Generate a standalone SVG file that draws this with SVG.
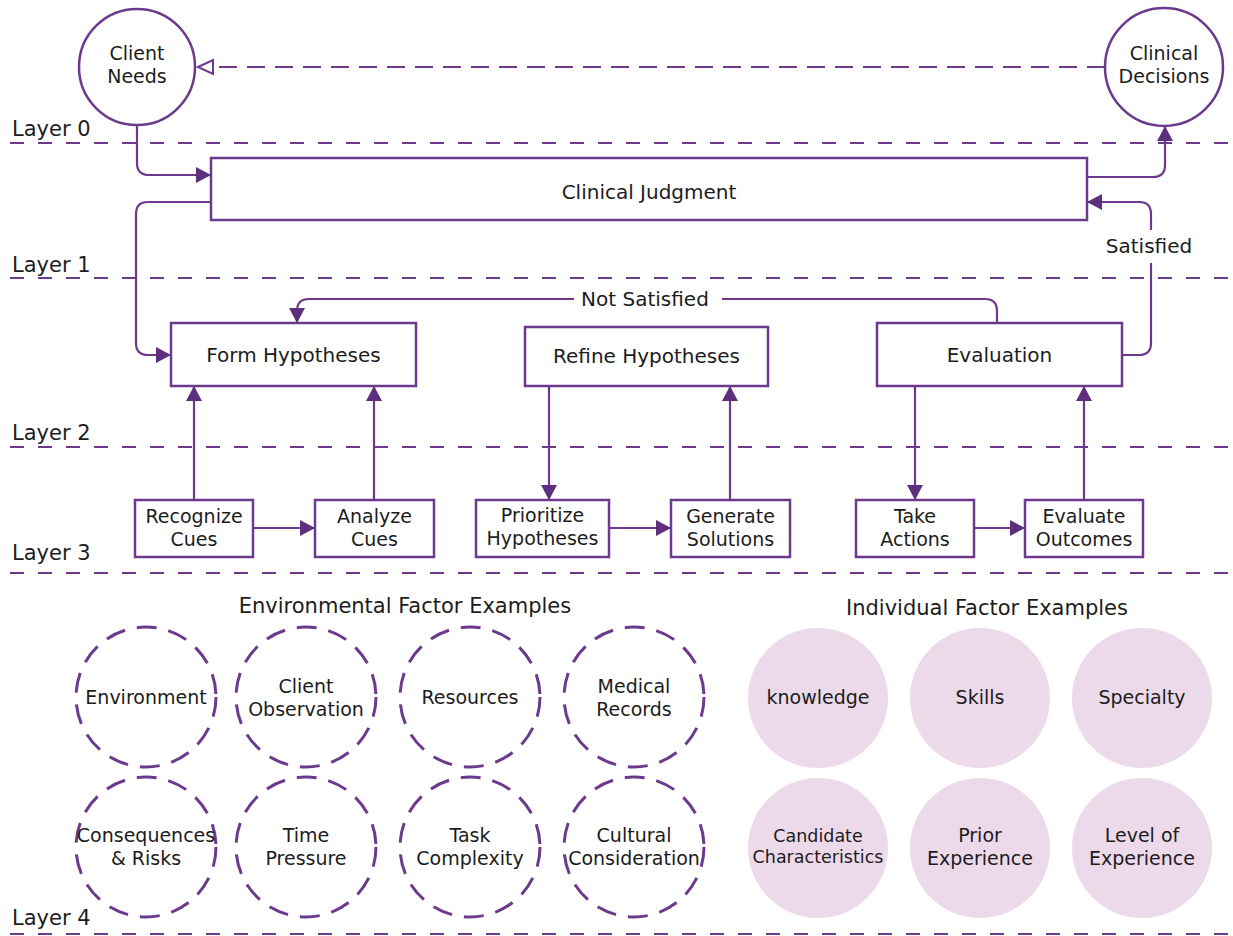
<svg xmlns="http://www.w3.org/2000/svg" width="1233" height="936" viewBox="0 0 1233 936">
<style>
text{font-family:"DejaVu Sans","Open Sans",sans-serif;fill:#1c1c1c}
.t{text-anchor:middle;font-size:20px}
.t2{text-anchor:middle;font-size:19px}
.n{text-anchor:middle;font-size:19px}
.e{text-anchor:middle;font-size:19px}
.i{text-anchor:middle;font-size:19px}
.cc{text-anchor:middle;font-size:17.5px}
.lay{font-size:21px}
.hd{text-anchor:middle;font-size:21px}
.box{fill:#fff;stroke:#6b3a8c;stroke-width:2.5}
.ring{fill:#fff;stroke:#6b3a8c;stroke-width:2.5}
.env{fill:none;stroke:#6b3a8c;stroke-width:3;stroke-dasharray:20 12}
.ind{fill:#ecdaeb}
.ln{fill:none;stroke:#6b3a8c;stroke-width:2.2;stroke-dasharray:14 14}
.c{fill:none;stroke:#6b3a8c;stroke-width:2.2}
</style>
<defs>
<marker id="arr" viewBox="0 0 15 16" refX="15" refY="8" markerWidth="15" markerHeight="16" markerUnits="userSpaceOnUse" orient="auto">
<path d="M0,0 L15,8 L0,16 z" fill="#5e2f7e"/>
</marker>
</defs>
<g id="layers">
<line class="ln" x1="10" y1="143" x2="1233" y2="143"/>
<line class="ln" x1="10" y1="278" x2="1233" y2="278"/>
<line class="ln" x1="10" y1="447" x2="1233" y2="447"/>
<line class="ln" x1="10" y1="573" x2="1233" y2="573"/>
<line class="ln" x1="10" y1="934" x2="1233" y2="934"/>
<text class="lay" x="12" y="136">Layer 0</text>
<text class="lay" x="12" y="272">Layer 1</text>
<text class="lay" x="12" y="440">Layer 2</text>
<text class="lay" x="12" y="560">Layer 3</text>
<text class="lay" x="12" y="925">Layer 4</text>
</g>
<g id="connectors">
<path class="c" d="M137,125 V163 Q137,175 149,175 H211" marker-end="url(#arr)"/>
<path class="c" d="M211,202 H148 Q136,202 136,214 V343 Q136,355 148,355 H171" marker-end="url(#arr)"/>
<path class="c" d="M1087,177 H1153 Q1165,177 1165,165 V126" marker-end="url(#arr)"/>
<path class="c" d="M1122,355 H1139 Q1151,355 1151,343 V263"/>
<path class="c" d="M1151,230 V214 Q1151,202 1139,202 H1087" marker-end="url(#arr)"/>
<path class="c" d="M997,323 V311 Q997,299 985,299 H722"/>
<path class="c" d="M574,299 H309 Q297,299 297,311 V323" marker-end="url(#arr)"/>
<path class="c" d="M194,500 V386" marker-end="url(#arr)"/>
<path class="c" d="M374,500 V386" marker-end="url(#arr)"/>
<path class="c" d="M253,528 H315" marker-end="url(#arr)"/>
<path class="c" d="M549,386 V500" marker-end="url(#arr)"/>
<path class="c" d="M609,528 H671" marker-end="url(#arr)"/>
<path class="c" d="M730,500 V386" marker-end="url(#arr)"/>
<path class="c" d="M915,386 V500" marker-end="url(#arr)"/>
<path class="c" d="M974,528 H1025" marker-end="url(#arr)"/>
<path class="c" d="M1084,500 V386" marker-end="url(#arr)"/>
<path d="M1105,67 H213" fill="none" stroke="#6b3a8c" stroke-width="2.2" stroke-dasharray="18 10"/>
<path d="M198,67 L213,60 L213,74 z" fill="#fff" stroke="#6b3a8c" stroke-width="2"/>
<text class="t" x="645" y="306">Not Satisfied</text>
<text class="t" x="1149" y="253">Satisfied</text>
</g>
<g id="client-needs">
<circle class="ring" cx="137" cy="67" r="58"/>
<text class="n" x="137" y="60">Client</text>
<text class="n" x="137" y="82.5">Needs</text>
</g>
<g id="clinical-decisions">
<circle class="ring" cx="1164" cy="67" r="59"/>
<text class="n" x="1164" y="60">Clinical</text>
<text class="n" x="1164" y="82.5">Decisions</text>
</g>
<g id="clinical-judgment">
<rect class="box" x="211" y="158" width="876" height="62"/>
<text class="t" x="649" y="199">Clinical Judgment</text>
</g>
<g id="form-hypotheses">
<rect class="box" x="171" y="323" width="245" height="63"/>
<text class="t" x="293.5" y="362">Form Hypotheses</text>
</g>
<g id="refine-hypotheses">
<rect class="box" x="525" y="327" width="243" height="59"/>
<text class="t" x="646.5" y="363">Refine Hypotheses</text>
</g>
<g id="evaluation">
<rect class="box" x="877" y="323" width="245" height="63"/>
<text class="t" x="999.5" y="362">Evaluation</text>
</g>
<g id="recognize-cues">
<rect class="box" x="135" y="500" width="118" height="57"/>
<text class="t2" x="194" y="523">Recognize</text>
<text class="t2" x="194" y="545.5">Cues</text>
</g>
<g id="analyze-cues">
<rect class="box" x="315" y="500" width="119" height="57"/>
<text class="t2" x="374.5" y="523">Analyze</text>
<text class="t2" x="374.5" y="545.5">Cues</text>
</g>
<g id="prioritize-hypotheses">
<rect class="box" x="476" y="500" width="133" height="57"/>
<text class="t2" x="542.5" y="522">Prioritize</text>
<text class="t2" x="542.5" y="544.5">Hypotheses</text>
</g>
<g id="generate-solutions">
<rect class="box" x="671" y="500" width="119" height="57"/>
<text class="t2" x="730.5" y="523">Generate</text>
<text class="t2" x="730.5" y="545.5">Solutions</text>
</g>
<g id="take-actions">
<rect class="box" x="856" y="500" width="118" height="57"/>
<text class="t2" x="915" y="523">Take</text>
<text class="t2" x="915" y="545.5">Actions</text>
</g>
<g id="evaluate-outcomes">
<rect class="box" x="1025" y="500" width="118" height="57"/>
<text class="t2" x="1084" y="523">Evaluate</text>
<text class="t2" x="1084" y="545.5">Outcomes</text>
</g>
<g id="environmental-factors">
<text class="hd" x="405" y="613">Environmental Factor Examples</text>
<g id="env-environment"><circle class="env" cx="146" cy="697" r="70"/><text class="e" x="146" y="704">Environment</text></g>
<g id="env-client-observation"><circle class="env" cx="306" cy="697" r="70"/><text class="e" x="306" y="693">Client</text><text class="e" x="306" y="716">Observation</text></g>
<g id="env-resources"><circle class="env" cx="470" cy="697" r="70"/><text class="e" x="470" y="704">Resources</text></g>
<g id="env-medical-records"><circle class="env" cx="634" cy="697" r="70"/><text class="e" x="634" y="693">Medical</text><text class="e" x="634" y="716">Records</text></g>
<g id="env-consequences"><circle class="env" cx="146" cy="847" r="70"/><text class="e" x="146" y="842">Consequences</text><text class="e" x="146" y="865">&amp; Risks</text></g>
<g id="env-time-pressure"><circle class="env" cx="306" cy="847" r="70"/><text class="e" x="306" y="842">Time</text><text class="e" x="306" y="865">Pressure</text></g>
<g id="env-task-complexity"><circle class="env" cx="470" cy="847" r="70"/><text class="e" x="470" y="842">Task</text><text class="e" x="470" y="865">Complexity</text></g>
<g id="env-cultural"><circle class="env" cx="634" cy="847" r="70"/><text class="e" x="634" y="842">Cultural</text><text class="e" x="634" y="865">Consideration</text></g>
</g>
<g id="individual-factors">
<text class="hd" x="987" y="615">Individual Factor Examples</text>
<g id="ind-knowledge"><circle class="ind" cx="818" cy="698" r="70"/><text class="i" x="818" y="704">knowledge</text></g>
<g id="ind-skills"><circle class="ind" cx="980" cy="698" r="70"/><text class="i" x="980" y="704">Skills</text></g>
<g id="ind-specialty"><circle class="ind" cx="1142" cy="698" r="70"/><text class="i" x="1142" y="704">Specialty</text></g>
<g id="ind-candidate"><circle class="ind" cx="818" cy="848" r="70"/><text class="cc" x="818" y="842">Candidate</text><text class="cc" x="818" y="863">Characteristics</text></g>
<g id="ind-prior"><circle class="ind" cx="980" cy="848" r="70"/><text class="i" x="980" y="842">Prior</text><text class="i" x="980" y="865">Experience</text></g>
<g id="ind-level"><circle class="ind" cx="1142" cy="848" r="70"/><text class="i" x="1142" y="842">Level of</text><text class="i" x="1142" y="865">Experience</text></g>
</g>
</svg>
